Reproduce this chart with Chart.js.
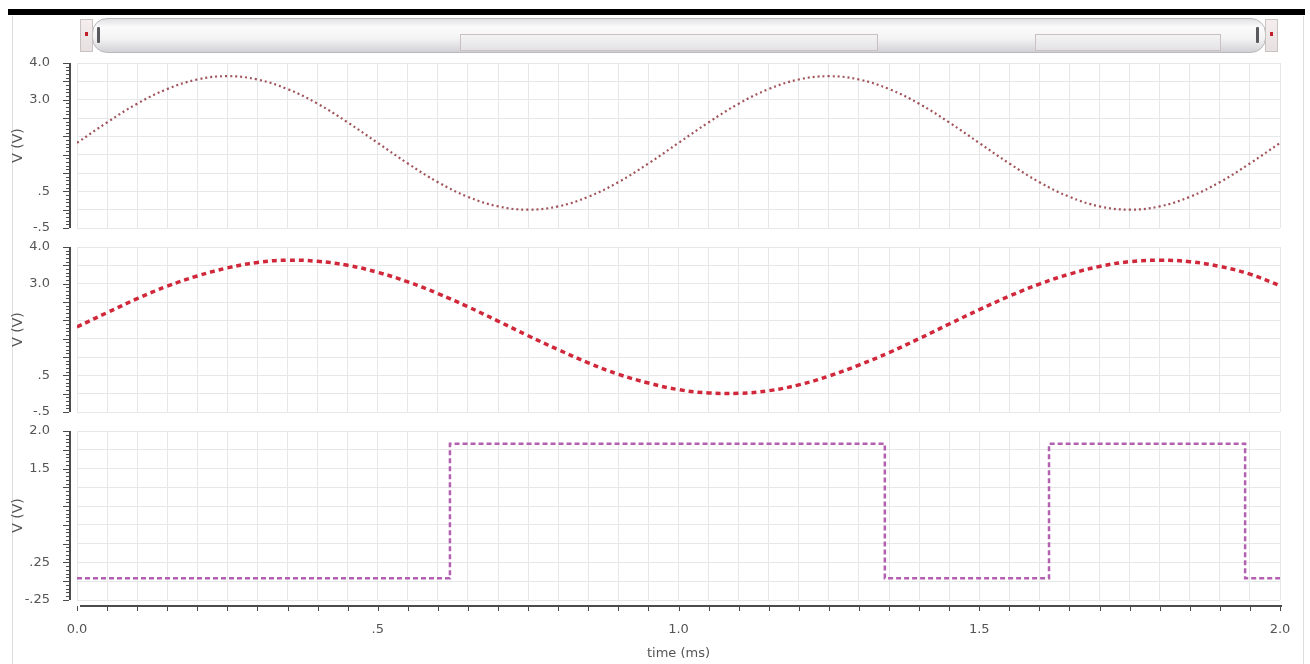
<!DOCTYPE html>
<html>
<head>
<meta charset="utf-8">
<script src="https://cdn.jsdelivr.net/npm/chart.js@4"></script>
<style>
  html, body { margin: 0; padding: 0; background: #fff; }
  #wrap { position: relative; width: 1310px; height: 664px; overflow: hidden; background: #fff; }
  #wrap canvas { position: absolute; left: 0; }
  .topbar { position: absolute; left: 8px; top: 9px; width: 1297px; height: 6px; background: #000; }
  .frame { position: absolute; top: 16px; bottom: 0; width: 1px; background: #dcdcdc; }
  .cap { position: absolute; top: 19px; width: 11px; height: 31px; background: linear-gradient(#f6eeee, #e6e0e0); border: 1px solid #c9c2c2; }
  .cap i { position: absolute; left: 4px; top: 12px; width: 3px; height: 4px; background: #c0202a; }
  .track { position: absolute; left: 92px; top: 18px; width: 1172px; height: 33px; border-radius: 15px;
           border: 1px solid #b9b9bd;
           background: linear-gradient(#e2e2e6, #fbfbfb 25%, #f3f3f4 60%, #d2d2d6); }
  .grip { position: absolute; top: 27px; width: 3px; height: 16px; background: #5a5a5e; border-radius: 1px; }
  .win { position: absolute; top: 34px; height: 15px; border: 1px solid #cbbfc0;
         background: linear-gradient(#f4f4f5, #e3e3e6); }
</style>
</head>
<body>
<div id="wrap">
  <div class="topbar"></div>
  <div class="frame" style="left:12px"></div>
  <div class="frame" style="left:1303px"></div>
  <div class="track"></div>
  <div class="cap" style="left:80px"><i></i></div>
  <div class="cap" style="left:1265px"><i></i></div>
  <div class="grip" style="left:97px"></div>
  <div class="grip" style="left:1256px"></div>
  <div class="win" style="left:460px; width:416px"></div>
  <div class="win" style="left:1035px; width:184px"></div>
  <canvas id="c1" width="1310" height="185" style="top:53px"></canvas>
  <canvas id="c2" width="1310" height="185" style="top:237px"></canvas>
  <canvas id="c3" width="1310" height="243" style="top:421px"></canvas>
</div>
<script>
// time axis (ms) shared by the two sine traces
const timeMs = [0.00, 0.05, 0.10, 0.15, 0.20, 0.25, 0.30, 0.35, 0.40, 0.45,
                0.50, 0.55, 0.60, 0.65, 0.70, 0.75, 0.80, 0.85, 0.90, 0.95,
                1.00, 1.05, 1.10, 1.15, 1.20, 1.25, 1.30, 1.35, 1.40, 1.45,
                1.50, 1.55, 1.60, 1.65, 1.70, 1.75, 1.80, 1.85, 1.90, 1.95, 2.00];

// top trace (V)
const vTop = [1.82, 2.38, 2.89, 3.29, 3.55, 3.64, 3.55, 3.29, 2.89, 2.38,
              1.82, 1.26, 0.75, 0.35, 0.09, 0.00, 0.09, 0.35, 0.75, 1.26,
              1.82, 2.38, 2.89, 3.29, 3.55, 3.64, 3.55, 3.29, 2.89, 2.38,
              1.82, 1.26, 0.75, 0.35, 0.09, 0.00, 0.09, 0.35, 0.75, 1.26, 1.82];

// middle trace (V)
const vMid = [1.82, 2.21, 2.59, 2.93, 3.21, 3.43, 3.58, 3.64, 3.61, 3.50,
              3.31, 3.05, 2.73, 2.37, 1.98, 1.58, 1.20, 0.84, 0.53, 0.29,
              0.11, 0.02, 0.01, 0.08, 0.24, 0.48, 0.78, 1.12, 1.50, 1.90,
              2.29, 2.66, 2.99, 3.26, 3.47, 3.60, 3.64, 3.60, 3.47, 3.26, 2.95];

// bottom trace: square wave edges (ms) and the level held from each edge (V)
const sqTimes = [0, 0.62, 1.343, 1.616, 1.942, 2.0];
const sqLevels = [0.04, 1.83, 0.04, 1.83, 0.04, 0.04];

// tick labels
const xLabelVals = [0, 0.5, 1.0, 1.5, 2.0];
const xLabelText = ['0.0', '.5', '1.0', '1.5', '2.0'];
const ySineLabelVals = [4.0, 3.0, 0.5, -0.5];
const ySineLabelText = ['4.0', '3.0', '.5', '-.5'];
const ySqLabelVals = [2.0, 1.5, 0.25, -0.25];
const ySqLabelText = ['2.0', '1.5', '.25', '-.25'];

const FONT = 'DejaVu Sans';
const GRID = '#e5e7e9';
const TXT = '#555';

function stepList(min, max, step) {
  const out = [];
  const n = Math.round((max - min) / step);
  for (let i = 0; i <= n; i++) out.push(+(min + i * step).toFixed(4));
  return out;
}

function labelFor(vals, texts) {
  return v => {
    const i = vals.findIndex(a => Math.abs(a - v) < 1e-6);
    return i < 0 ? '' : texts[i];
  };
}

// axis line with minor/major ticks, offset a little from the plot like the original tool
const axisDecor = {
  id: 'axisDecor',
  afterDraw(chart, args, o) {
    const { ctx, chartArea: a, scales: { x, y } } = chart;
    ctx.save();
    ctx.strokeStyle = '#4b4b4b';
    const ax = a.left - 7;
    ctx.lineWidth = 2;
    ctx.beginPath();
    ctx.moveTo(ax, a.top); ctx.lineTo(ax, a.bottom);
    ctx.stroke();
    ctx.lineWidth = 1;
    ctx.beginPath();
    stepList(y.min, y.max, o.minor).forEach(v => {
      const py = Math.round(y.getPixelForValue(v)) + 0.5;
      const major = Math.abs(v / o.major - Math.round(v / o.major)) < 1e-6;
      ctx.moveTo(ax - 1, py); ctx.lineTo(ax - (major ? 7 : 4), py);
    });
    ctx.stroke();
    if (o.xAxis) {
      const ay = a.bottom + 6;
      ctx.lineWidth = 2;
      ctx.beginPath();
      ctx.moveTo(a.left + 3, ay); ctx.lineTo(a.right + 2, ay);
      ctx.stroke();
      ctx.lineWidth = 1;
      ctx.beginPath();
      x.ticks.forEach(t => {
        const px = Math.round(x.getPixelForValue(t.value)) + 0.5;
        ctx.moveTo(px, ay); ctx.lineTo(px, ay + 5);
      });
      ctx.stroke();
    }
    ctx.restore();
  }
};

function makePanel(id, datasets, yMin, yMax, yStep, yMinor, labVals, labText, bottom) {
  const xTicks = stepList(0, 2, 0.05);
  const yTicks = stepList(yMin, yMax, yStep);
  return new Chart(document.getElementById(id), {
    type: 'line',
    data: { datasets },
    plugins: [axisDecor],
    options: {
      responsive: false,
      animation: false,
      events: [],
      layout: { padding: { left: 0, right: 30, top: 10, bottom: bottom ? 0 : 10 } },
      plugins: {
        legend: { display: false },
        tooltip: { enabled: false },
        axisDecor: { minor: yMinor, major: yStep, xAxis: bottom }
      },
      scales: {
        x: {
          type: 'linear', min: 0, max: 2,
          afterBuildTicks: s => { s.ticks = xTicks.map(v => ({ value: v })); },
          afterFit: s => { s.height = bottom ? 64 : 0; },
          // label offset done with an invisible tick mark so it does not widen the side padding
          grid: { color: GRID, drawTicks: bottom, tickLength: 22, tickColor: 'rgba(0,0,0,0)' },
          border: { display: false },
          ticks: {
            display: bottom, autoSkip: false, maxRotation: 0, padding: 0,
            color: TXT, font: { family: FONT, size: 13 },
            callback: labelFor(xLabelVals, xLabelText)
          },
          title: {
            display: bottom, text: 'time (ms)', color: TXT,
            font: { family: FONT, size: 13 }, padding: { top: 0, bottom: 3 }
          }
        },
        y: {
          min: yMin, max: yMax,
          afterBuildTicks: s => { s.ticks = yTicks.map(v => ({ value: v })); },
          afterFit: s => { s.width = 77; },
          grid: { color: GRID, drawTicks: true, tickLength: 27, tickColor: 'rgba(0,0,0,0)' },
          border: { display: false },
          ticks: {
            autoSkip: false, padding: 0, color: TXT,
            font: { family: FONT, size: 13 },
            callback: labelFor(labVals, labText)
          },
          title: {
            display: true, text: 'V (V)', color: TXT,
            font: { family: FONT, size: 14 }, padding: { top: 10, bottom: 0 }
          }
        }
      }
    }
  });
}

makePanel('c1', [{
  data: timeMs.map((t, i) => ({ x: t, y: vTop[i] })),
  borderColor: '#a0545a', borderWidth: 2.2, borderDash: [2, 3],
  pointRadius: 0, tension: 0.4
}], -0.5, 4.0, 0.5, 0.1, ySineLabelVals, ySineLabelText, false);

makePanel('c2', [{
  data: timeMs.map((t, i) => ({ x: t, y: vMid[i] })),
  borderColor: '#d0283a', borderWidth: 3.5, borderDash: [5, 4],
  pointRadius: 0, tension: 0.4
}], -0.5, 4.0, 0.5, 0.1, ySineLabelVals, ySineLabelText, false);

makePanel('c3', [{
  data: sqTimes.map((t, i) => ({ x: t, y: sqLevels[i] })),
  borderColor: '#b260b0', borderWidth: 2.5, borderDash: [5, 3],
  pointRadius: 0, stepped: 'before'
}], -0.25, 2.0, 0.25, 0.05, ySqLabelVals, ySqLabelText, true);
</script>
</body>
</html>
